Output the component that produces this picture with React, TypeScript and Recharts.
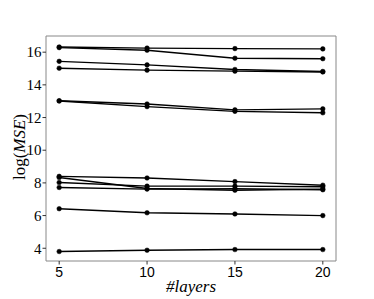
import React from "react";
import { LineChart, Line, XAxis, YAxis, ReferenceArea, Label } from "recharts";

const layers = [5, 10, 15, 20];
const s1 = [16.32, 16.25, 16.22, 16.2];
const s2 = [16.28, 16.12, 15.63, 15.6];
const s3 = [15.44, 15.22, 14.94, 14.82];
const s4 = [15.02, 14.9, 14.84, 14.79];
const s5 = [13.03, 12.83, 12.47, 12.53];
const s6 = [13.01, 12.67, 12.38, 12.29];
const s7 = [8.4, 8.3, 8.08, 7.86];
const s8 = [8.33, 7.66, 7.55, 7.62];
const s9 = [8.02, 7.8, 7.8, 7.76];
const s10 = [7.72, 7.62, 7.64, 7.58];
const s11 = [6.42, 6.17, 6.1, 6.0];
const s12 = [3.8, 3.88, 3.92, 3.92];
const series = [s1, s2, s3, s4, s5, s6, s7, s8, s9, s10, s11, s12];
const yTicks = [4, 6, 8, 10, 12, 14, 16];
const xTicks = [5, 10, 15, 20];

const data = layers.map((l, i) => {
  const row: Record<string, number> = { layers: l };
  series.forEach((s, j) => {
    row["s" + (j + 1)] = s[i];
  });
  return row;
});

const X_DOMAIN: [number, number] = [4.25, 20.75];
const Y_DOMAIN: [number, number] = [3.22, 16.99];

const SERIF = "'Liberation Serif', 'DejaVu Serif', serif";
const SANS = "'Liberation Sans', 'DejaVu Sans', sans-serif";

const YTick = (props: any) => {
  const { x, y, payload } = props;
  return (
    <text x={x} y={y} dy="0.35em" textAnchor="end" fill="#000" style={{ fontFamily: SERIF, fontSize: 15 }}>
      {payload.value}
    </text>
  );
};

const XTick = (props: any) => {
  const { x, y, payload } = props;
  return (
    <text x={x} y={y} dy="0.8em" textAnchor="middle" fill="#000" style={{ fontFamily: SANS, fontSize: 14 }}>
      {payload.value}
    </text>
  );
};

export default function App() {
  return (
    <div style={{ position: "absolute", left: 0, top: 0, width: 374, height: 299, background: "#fff" }}>
      <LineChart
        width={374}
        height={299}
        data={data}
        margin={{ top: 36, right: 38, left: 0, bottom: 0 }}
      >
        <XAxis
          dataKey="layers"
          type="number"
          domain={X_DOMAIN}
          ticks={xTicks}
          height={38}
          axisLine={false}
          tickLine={{ stroke: "#333" }}
          tickSize={3.5}
          tickMargin={1}
          tick={<XTick />}
          allowDataOverflow
        >
          <Label
            content={(props: any) => {
              const vb = props.viewBox || { x: 46, width: 290, y: 261 };
              return (
                <text
                  x={vb.x + vb.width / 2}
                  y={292}
                  textAnchor="middle"
                  fill="#000"
                  style={{ fontFamily: SERIF, fontStyle: "italic", fontSize: 17 }}
                >
                  #layers
                </text>
              );
            }}
          />
        </XAxis>
        <YAxis
          type="number"
          domain={Y_DOMAIN}
          ticks={yTicks}
          width={46}
          axisLine={false}
          tickLine={{ stroke: "#333" }}
          tickSize={3.5}
          tickMargin={1}
          tick={<YTick />}
          allowDataOverflow
        >
          <Label
            content={() => (
              <text
                x={0}
                y={0}
                transform="translate(25,147) rotate(-90)"
                textAnchor="middle"
                fill="#000"
                style={{ fontFamily: SERIF, fontSize: 17 }}
              >
                log(<tspan fontStyle="italic">MSE</tspan>)
              </text>
            )}
          />
        </YAxis>
        <ReferenceArea
          x1={X_DOMAIN[0]}
          x2={X_DOMAIN[1]}
          y1={Y_DOMAIN[0]}
          y2={Y_DOMAIN[1]}
          fill="none"
          stroke="#888"
          strokeWidth={1}
          ifOverflow="visible"
        />
        {series.map((_, j) => (
          <Line
            key={j}
            dataKey={"s" + (j + 1)}
            stroke="#000"
            strokeWidth={1.4}
            dot={{ r: 2.3, fill: "#000", stroke: "#000", strokeWidth: 0.5 }}
            isAnimationActive={false}
          />
        ))}
      </LineChart>
    </div>
  );
}
